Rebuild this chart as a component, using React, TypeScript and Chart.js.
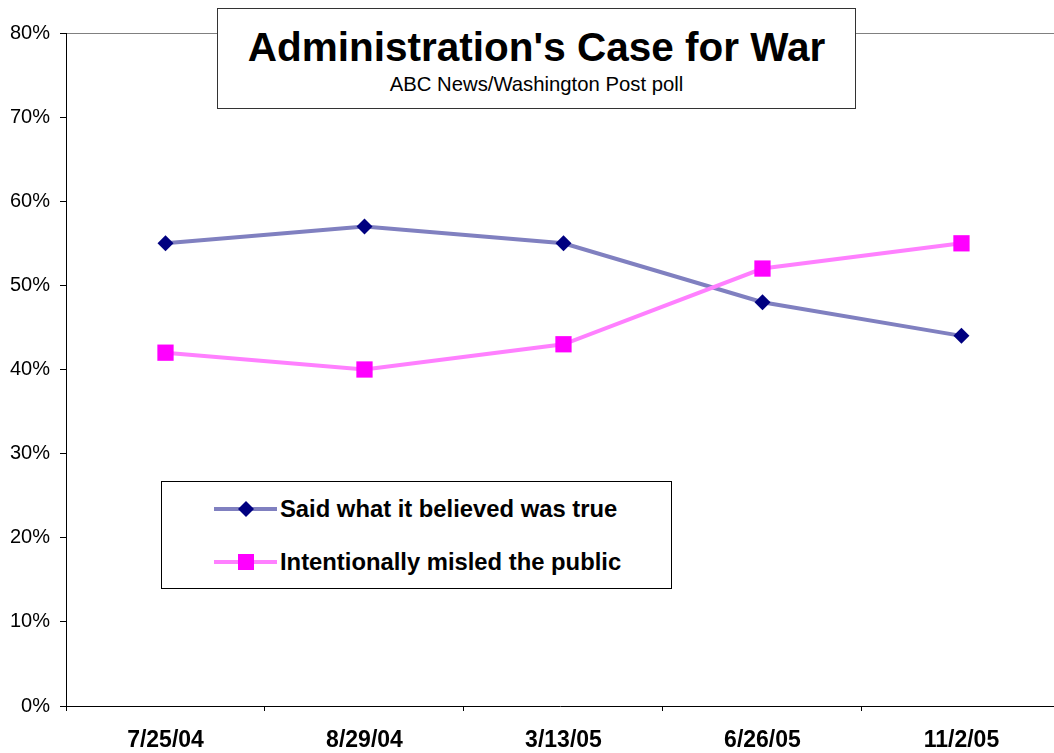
import React, { useEffect, useRef } from 'react';
import { Chart, registerables } from 'chart.js';

Chart.register(...registerables);

const categories = ['7/25/04', '8/29/04', '3/13/05', '6/26/05', '11/2/05'];
const saidTrue = [55, 57, 55, 48, 44];
const misled = [42, 40, 43, 52, 55];
const yTicks = [0, 10, 20, 30, 40, 50, 60, 70, 80];
const seriesNames = ['Said what it believed was true', 'Intentionally misled the public'];
const titleText = "Administration's Case for War";
const subtitleText = 'ABC News/Washington Post poll';

const FONT = '"Liberation Sans", Arial, Helvetica, sans-serif';
const BLUE_LINE = '#8080C0';
const BLUE_MARK = '#000080';
const PINK_LINE = '#FF80FF';
const PINK_MARK = '#FF00FF';

function LegendSwatch({ kind }: { kind: 'diamond' | 'square' }) {
  const line = kind === 'diamond' ? BLUE_LINE : PINK_LINE;
  const mark = kind === 'diamond' ? BLUE_MARK : PINK_MARK;
  return (
    <svg width={64} height={20} style={{ position: 'absolute', left: 0, top: 0 }}>
      <line x1={0} y1={10} x2={63} y2={10} stroke={line} strokeWidth={4} />
      {kind === 'diamond' ? (
        <polygon points="32,2 40,10 32,18 24,10" fill={mark} />
      ) : (
        <rect x={24} y={2} width={16} height={16} fill={mark} />
      )}
    </svg>
  );
}

export default function App() {
  const canvasRef = useRef<HTMLCanvasElement | null>(null);

  useEffect(() => {
    if (!canvasRef.current) return;
    const xTickValues: number[] = [];
    categories.forEach((_, i) => {
      xTickValues.push(i - 0.5);
      xTickValues.push(i);
    });
    const chart = new Chart(canvasRef.current, {
      type: 'line',
      data: {
        datasets: [
          {
            label: seriesNames[0],
            data: saidTrue.map((v, i) => ({ x: i, y: v })),
            borderColor: BLUE_LINE,
            borderWidth: 4,
            pointStyle: 'rectRot',
            pointRadius: 8,
            pointBackgroundColor: BLUE_MARK,
            pointBorderColor: BLUE_MARK,
            pointBorderWidth: 0,
            tension: 0,
            order: 1,
          },
          {
            label: seriesNames[1],
            data: misled.map((v, i) => ({ x: i, y: v })),
            borderColor: PINK_LINE,
            borderWidth: 4,
            pointStyle: 'rect',
            pointRadius: 11.5,
            pointBackgroundColor: PINK_MARK,
            pointBorderColor: PINK_MARK,
            pointBorderWidth: 0,
            tension: 0,
            order: 0,
          },
        ],
      },
      options: {
        animation: false,
        responsive: false,
        layout: { autoPadding: false, padding: { top: 33, left: 0, right: 0, bottom: 0 } },
        plugins: {
          legend: { display: false },
          title: { display: false },
          tooltip: { enabled: false },
        },
        scales: {
          x: {
            type: 'linear',
            min: -0.5,
            max: categories.length - 0.535,
            afterBuildTicks: (s: any) => {
              s.ticks = xTickValues.map((v) => ({ value: v }));
            },
            afterFit: (s: any) => {
              s.height = 47;
              s.paddingLeft = 0;
              s.paddingRight = 0;
            },
            grid: {
              drawOnChartArea: false,
              tickLength: 5,
              tickColor: (ctx: any) =>
                ctx.tick && Number.isInteger(ctx.tick.value) ? 'rgba(0,0,0,0)' : '#000',
            },
            border: { color: '#000', width: 1 },
            ticks: {
              autoSkip: false,
              maxRotation: 0,
              minRotation: 0,
              padding: 16,
              color: '#000',
              font: { family: FONT, size: 23, weight: 'bold' },
              callback: (v: any) => (Number.isInteger(v) ? categories[v] : ''),
            },
          },
          y: {
            min: 0,
            max: 80,
            afterBuildTicks: (s: any) => {
              s.ticks = yTicks.map((v) => ({ value: v }));
            },
            afterFit: (s: any) => {
              s.width = 66;
            },
            grid: {
              color: (ctx: any) =>
                ctx.tick && ctx.tick.value === 80 ? '#808080' : 'rgba(0,0,0,0)',
              tickColor: '#000',
              tickLength: 6,
            },
            border: { color: '#000', width: 1 },
            ticks: {
              padding: 10,
              color: '#000',
              font: { family: FONT, size: 20 },
              callback: (v: any) => `${v}%`,
            },
          },
        },
      } as any,
    });
    return () => chart.destroy();
  }, []);

  return (
    <div
      style={{
        position: 'fixed',
        left: 0,
        top: 0,
        width: 1054,
        height: 753,
        background: '#fff',
        overflow: 'hidden',
        fontFamily: FONT,
      }}
    >
      <canvas ref={canvasRef} width={1054} height={753} style={{ display: 'block' }} />
      <div
        style={{
          position: 'absolute',
          left: 217,
          top: 8,
          width: 639,
          height: 101,
          boxSizing: 'border-box',
          border: '1px solid #333',
          background: '#fff',
        }}
      >
        <div
          style={{
            position: 'absolute',
            left: 0,
            right: 0,
            top: 18,
            textAlign: 'center',
            fontSize: 40.5,
            lineHeight: '40px',
            fontWeight: 'bold',
            color: '#000',
            whiteSpace: 'nowrap',
          }}
        >
          {titleText}
        </div>
        <div
          style={{
            position: 'absolute',
            left: 0,
            right: 0,
            top: 65,
            textAlign: 'center',
            fontSize: 20.3,
            lineHeight: '20px',
            color: '#000',
            whiteSpace: 'nowrap',
          }}
        >
          {subtitleText}
        </div>
      </div>
      <div
        style={{
          position: 'absolute',
          left: 161,
          top: 481,
          width: 511,
          height: 108,
          boxSizing: 'border-box',
          border: '1px solid #000',
          background: '#fff',
        }}
      >
        {seriesNames.map((name, i) => (
          <div
            key={name}
            style={{ position: 'absolute', left: 52, top: 17 + i * 53, height: 20, width: 450 }}
          >
            <LegendSwatch kind={i === 0 ? 'diamond' : 'square'} />
            <div
              style={{
                position: 'absolute',
                left: 66,
                top: -2,
                fontSize: 23.8,
                lineHeight: '24px',
                fontWeight: 'bold',
                color: '#000',
                whiteSpace: 'nowrap',
              }}
            >
              {name}
            </div>
          </div>
        ))}
      </div>
    </div>
  );
}
